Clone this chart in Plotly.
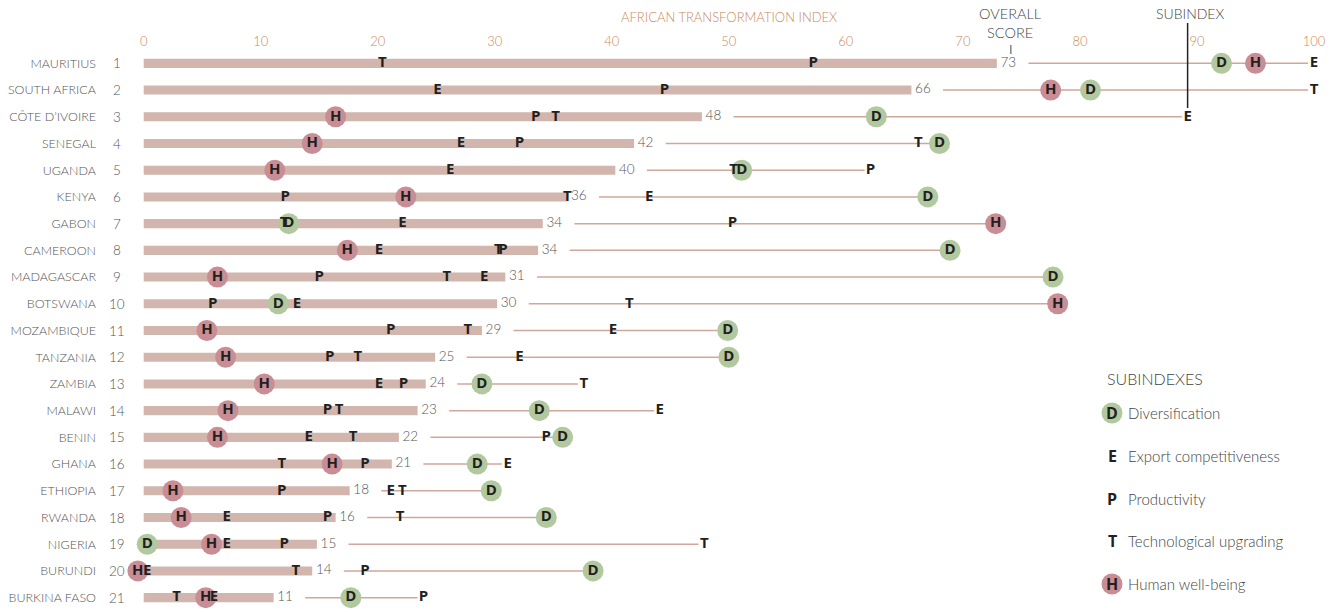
import plotly.graph_objects as go

countries = ["MAURITIUS", "SOUTH AFRICA", "CÔTE D’IVOIRE", "SENEGAL", "UGANDA", "KENYA",
             "GABON", "CAMEROON", "MADAGASCAR", "BOTSWANA", "MOZAMBIQUE", "TANZANIA",
             "ZAMBIA", "MALAWI", "BENIN", "GHANA", "ETHIOPIA", "RWANDA", "NIGERIA",
             "BURUNDI", "BURKINA FASO"]
ranks = list(range(1, 22))
overall = [72.9, 65.6, 47.7, 41.9, 40.3, 36.2, 34.1, 33.7, 30.9, 30.2, 28.9, 24.9,
           24.1, 23.4, 21.8, 21.2, 17.6, 16.4, 14.8, 14.4, 11.1]
overall_labels = [73, 66, 48, 42, 40, 36, 34, 34, 31, 30, 29, 25, 24, 23, 22, 21, 18, 16, 15, 14, 11]

diversification = [92.1, 80.9, 62.6, 68.0, 51.1, 67.0, 12.4, 68.9, 77.7, 11.5, 49.9, 50.0,
                   28.9, 33.8, 35.8, 28.5, 29.7, 34.4, 0.3, 38.4, 17.7]
export_comp = [100.0, 25.1, 89.2, 27.1, 26.2, 43.2, 22.1, 20.1, 29.1, 13.1, 40.1, 32.1,
               20.1, 44.1, 14.1, 31.1, 21.1, 7.1, 7.1, 0.3, 6.0]
productivity = [57.2, 44.5, 33.5, 32.1, 62.1, 12.1, 50.3, 30.7, 15.0, 5.9, 21.1, 15.9,
                22.2, 15.7, 34.4, 18.9, 11.8, 15.7, 12.0, 18.9, 23.9]
technology = [20.4, 100.0, 35.2, 66.2, 50.4, 36.2, 12.0, 30.3, 25.9, 41.5, 27.7, 18.3,
              37.6, 16.7, 17.9, 11.8, 22.1, 21.9, 47.9, 13.0, 2.8]
human = [95.0, 77.5, 16.4, 14.4, 11.2, 22.4, 72.8, 17.4, 6.3, 78.1, 5.4, 7.0,
         10.3, 7.2, 6.3, 16.1, 2.5, 3.2, 5.8, -0.5, 5.3]

x_ticks = list(range(0, 101, 10))

BAR = "#d2b5ac"
LINE = "#cfa79d"
GREEN = "#b2c9a0"
PINK = "#c98d95"
ORANGE = "#c98a5c"
GRAY = "#555555"
DARK = "#231f20"
TXT_FONT = "Lato, sans-serif"
LET_FONT = "Open Sans, sans-serif"
LIGHT = 300

# page body has an 8px margin: figure is 8px smaller than the window on each axis
OFF = 8
W, H = 1331, 604
ML, MR, MT, MB = 124, 25, 42, 1
PW, PH = W - ML - MR, H - MT - MB


def px(xs):
    return (xs - OFF - ML) / PW


def py(ys):
    return (H - MB - (ys - OFF)) / PH


fig = go.Figure()

fig.add_trace(go.Bar(x=overall, y=ranks, orientation="h", width=0.34,
                     marker=dict(color=BAR, line_width=0), hoverinfo="skip"))

lx, ly = [], []
for r, s, d, e, p, t, h in zip(ranks, overall, diversification, export_comp,
                               productivity, technology, human):
    mx = max(d, e, p, t, h)
    lx += [s + 2.7, mx - 0.5, None]
    ly += [r, r, None]
fig.add_trace(go.Scatter(x=lx, y=ly, mode="lines", line=dict(color=LINE, width=1.5),
                         hoverinfo="skip"))

fig.add_trace(go.Scatter(x=overall, y=ranks, mode="text",
                         text=["\u00a0" + str(v) for v in overall_labels],
                         textposition="middle right",
                         textfont=dict(family=TXT_FONT, size=13.5, color=GRAY, weight=LIGHT),
                         cliponaxis=False, hoverinfo="skip"))

fig.add_trace(go.Scatter(x=diversification, y=ranks, mode="markers",
                         marker=dict(size=21, color=GREEN, line_width=0),
                         cliponaxis=False, hoverinfo="skip"))
fig.add_trace(go.Scatter(x=human, y=ranks, mode="markers",
                         marker=dict(size=21, color=PINK, line_width=0),
                         cliponaxis=False, hoverinfo="skip"))

for vals, letter in [(diversification, "D"), (human, "H"), (export_comp, "E"),
                     (productivity, "P"), (technology, "T")]:
    fig.add_trace(go.Scatter(x=vals, y=ranks, mode="text", text=[letter] * len(vals),
                             textposition="middle center",
                             textfont=dict(family=LET_FONT, size=15, color=DARK, weight="bold"),
                             cliponaxis=False, hoverinfo="skip"))

shapes = [
    dict(type="line", xref="x", yref="paper", x0=74.1, x1=74.1, y0=py(54), y1=py(45),
         line=dict(color="#444444", width=1)),
    dict(type="line", xref="x", yref="paper", x0=export_comp[2], x1=export_comp[2],
         y0=py(108), y1=py(23), line=dict(color="#222222", width=1.5)),
]
annotations = [
    dict(text="AFRICAN TRANSFORMATION INDEX", x=50, xref="x", y=py(17), yref="paper",
         xanchor="center", yanchor="middle", showarrow=False,
         font=dict(family=TXT_FONT, size=13, color=ORANGE, weight=LIGHT)),
    dict(text="OVERALL<br>SCORE", x=74.1, xref="x", y=py(23), yref="paper",
         xanchor="center", yanchor="middle", showarrow=False,
         font=dict(family=TXT_FONT, size=14.5, color="#444444", weight=LIGHT)),
    dict(text="SUBINDEX", x=89.4, xref="x", y=py(13), yref="paper",
         xanchor="center", yanchor="middle", showarrow=False,
         font=dict(family=TXT_FONT, size=14, color="#444444", weight=LIGHT)),
    dict(text="SUBINDEXES", x=px(1105), xref="paper", y=py(378), yref="paper",
         xanchor="left", yanchor="middle", showarrow=False,
         font=dict(family=TXT_FONT, size=16, color="#444444", weight=LIGHT)),
]

for r in ranks:
    annotations.append(dict(text=str(r), x=px(117), xref="paper", y=r, yref="y",
                            xanchor="center", yanchor="middle", showarrow=False,
                            font=dict(family=TXT_FONT, size=13.5, color=GRAY, weight=LIGHT)))

legend_items = [("D", "Diversification", GREEN, 413),
                ("E", "Export competitiveness", None, 456),
                ("P", "Productivity", None, 499),
                ("T", "Technological upgrading", None, 541),
                ("H", "Human well-being", PINK, 584)]
for letter, label, col, yy in legend_items:
    if col:
        shapes.append(dict(type="circle", xref="paper", yref="paper",
                           xsizemode="pixel", ysizemode="pixel",
                           xanchor=px(1112), yanchor=py(yy),
                           x0=-10.5, x1=10.5, y0=-10.5, y1=10.5,
                           fillcolor=col, line_width=0, layer="below"))
    annotations.append(dict(text=f"<b>{letter}</b>", x=px(1112), xref="paper", y=py(yy),
                            yref="paper", xanchor="center", yanchor="middle", showarrow=False,
                            font=dict(family=LET_FONT, size=16, color=DARK)))
    annotations.append(dict(text=label, x=px(1126), xref="paper", y=py(yy), yref="paper",
                            xanchor="left", yanchor="middle", showarrow=False,
                            font=dict(family=TXT_FONT, size=15, color="#444444", weight=LIGHT)))

fig.update_layout(
    width=W, height=H, margin=dict(l=ML, r=MR, t=MT, b=MB, autoexpand=False),
    paper_bgcolor="white", plot_bgcolor="white", showlegend=False,
    shapes=shapes, annotations=annotations,
    xaxis=dict(range=[-1, 100], side="top", tickvals=x_ticks, ticks="",
               showgrid=False, zeroline=False, showline=False, automargin=False,
               tickfont=dict(family=TXT_FONT, size=13, color=ORANGE, weight=LIGHT)),
    yaxis=dict(range=[21.5, 0.5], tickvals=ranks, ticktext=countries, ticks="",
               showgrid=False, zeroline=False, showline=False, automargin=False,
               ticklabelstandoff=35,
               tickfont=dict(family=TXT_FONT, size=12.5, color=GRAY, weight=LIGHT)),
)

fig.write_html("out.html")
